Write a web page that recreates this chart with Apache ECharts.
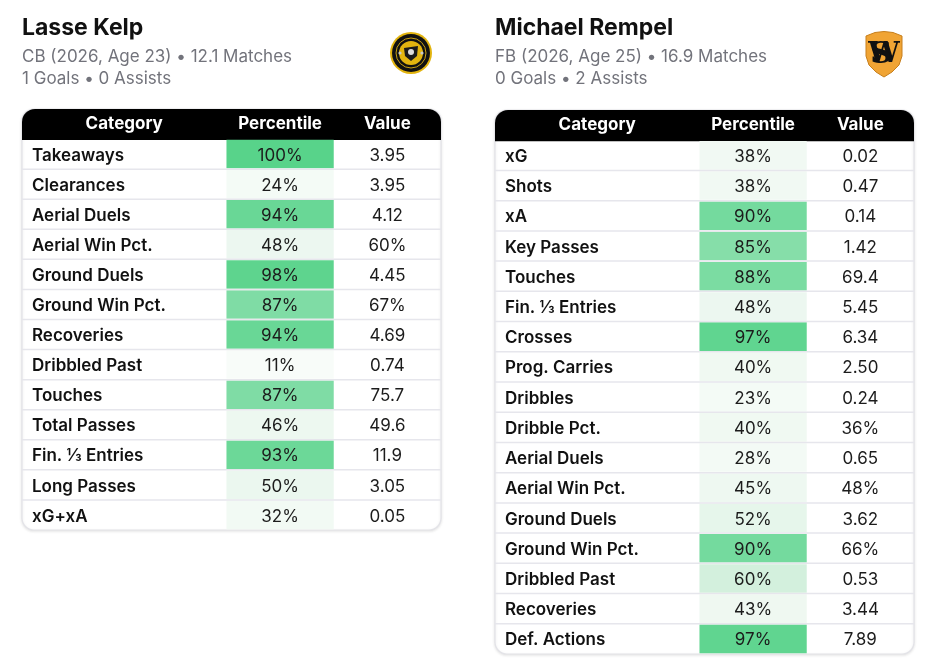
<!DOCTYPE html>
<html>
<head>
<meta http-equiv="Content-Type" content="text/html; charset=utf8">
<title>Player percentiles</title>
<script src="https://cdn.jsdelivr.net/npm/echarts@6/dist/echarts.min.js"></script>
<style type="text/css">
html,body{margin:0;padding:0;background:#fff;}
#main{width:933px;height:670px;}
</style>
</head>
<body>
<div id="main"></div>
<script>
// player 1
var nameA = 'Lasse Kelp';
var infoA = ['CB (2026, Age 23) • 12.1 Matches', '1 Goals • 0 Assists'];
var catsA = ['Takeaways','Clearances','Aerial Duels','Aerial Win Pct.','Ground Duels','Ground Win Pct.','Recoveries','Dribbled Past','Touches','Total Passes','Fin. ⅓ Entries','Long Passes','xG+xA'];
var pctA = [100,24,94,48,98,87,94,11,87,46,93,50,32];
var valA = ['3.95','3.95','4.12','60%','4.45','67%','4.69','0.74','75.7','49.6','11.9','3.05','0.05'];

// player 2
var nameB = 'Michael Rempel';
var infoB = ['FB (2026, Age 25) • 16.9 Matches', '0 Goals • 2 Assists'];
var catsB = ['xG','Shots','xA','Key Passes','Touches','Fin. ⅓ Entries','Crosses','Prog. Carries','Dribbles','Dribble Pct.','Aerial Duels','Aerial Win Pct.','Ground Duels','Ground Win Pct.','Dribbled Past','Recoveries','Def. Actions'];
var pctB = [38,38,90,85,88,48,97,40,23,40,28,45,52,90,60,43,97];
var valB = ['0.02','0.47','0.14','1.42','69.4','5.45','6.34','2.50','0.24','36%','0.65','48%','3.62','66%','0.53','3.44','7.89'];

var headers = ['Category','Percentile','Value'];

// column edges as share of table width
var colEdges = [0, 0.488, 0.744, 1];
var FONT = 'Inter, "Noto Sans", sans-serif';

function rowsData(pcts){
	var d = [[0, -1]]; // header row
	pcts.forEach(function(p, i){ d.push([i + 1, p]); });
	return d;
}

function makeRender(cats, vals){
	var n = cats.length + 1;
	return function(params, api){
		var row = api.value(0);
		var h = api.size([0, 1])[1];
		var cy = api.coord([0, row])[1];
		var top = cy - h / 2;
		var ty = cy + 1.5; // text sits a little low in the cell
		var xs = colEdges.map(function(e){ return api.coord([e, row])[0]; });
		var w = xs[3] - xs[0];
		var kids = [];
		if (row === 0) {
			kids.push({
				type:'rect', z2:0,
				shape:{x:xs[0], y:top, width:w, height:h * n, r:12},
				style:{fill:'#fff', stroke:'#e3e3e8', lineWidth:1.2,
					shadowBlur:3, shadowColor:'rgba(0,0,0,0.10)', shadowOffsetY:1}
			});
			kids.push({
				type:'rect', z2:1,
				shape:{x:xs[0], y:top, width:w, height:h + 1, r:[13,13,0,0]},
				style:{fill:'#000'}
			});
			for (var c = 0; c < 3; c++) {
				kids.push({
					type:'text', z2:2,
					style:{text:headers[c], x:(xs[c] + xs[c + 1]) / 2, y:cy,
						align:'center', verticalAlign:'middle',
						fill:'#fff', font:'bold 17px ' + FONT}
				});
			}
			return {type:'group', children:kids};
		}
		if (row > 1) {
			kids.push({
				type:'line', z2:3,
				shape:{x1:xs[0], y1:top, x2:xs[3], y2:top},
				style:{stroke:'#e6e6ec', lineWidth:1.5}
			});
		}
		kids.push({
			type:'rect', z2:2,
			shape:{x:xs[1], y:top + 0.8, width:xs[2] - xs[1], height:h - 1.6},
			style:{fill:api.visual('color')}
		});
		kids.push({
			type:'text', z2:4,
			style:{text:cats[row - 1], x:xs[0] + 10, y:ty, align:'left', verticalAlign:'middle',
				fill:'#111', font:'600 17px ' + FONT}
		});
		kids.push({
			type:'text', z2:4,
			style:{text:api.value(1) + '%', x:(xs[1] + xs[2]) / 2, y:ty, align:'center', verticalAlign:'middle',
				fill:'#1c1c1c', font:'17px ' + FONT}
		});
		kids.push({
			type:'text', z2:4,
			style:{text:vals[row - 1], x:(xs[2] + xs[3]) / 2, y:ty, align:'center', verticalAlign:'middle',
				fill:'#1c1c1c', font:'17px ' + FONT}
		});
		return {type:'group', children:kids};
	};
}

function yCats(cats){ return ['header'].concat(cats); }

var chart = echarts.init(document.getElementById('main'), null, {renderer:'canvas'});

var titleBase = {
	top:15, padding:0, itemGap:4,
	textStyle:{fontFamily:FONT, fontSize:23, fontWeight:'bold', color:'#111', lineHeight:27},
	subtextStyle:{fontFamily:FONT, fontSize:17, color:'#72737b', lineHeight:22}
};

var option = {
	animation:false,
	backgroundColor:'#fff',
	title:[
		Object.assign({}, titleBase, {left:22, text:nameA, subtext:infoA.join('\n')}),
		Object.assign({}, titleBase, {left:495, text:nameB, subtext:infoB.join('\n')})
	],
	grid:[
		{left:22, right:492, top:109, bottom:140},
		{left:495, right:19, top:110, bottom:16}
	],
	xAxis:[
		{type:'value', gridIndex:0, min:0, max:1, show:false},
		{type:'value', gridIndex:1, min:0, max:1, show:false}
	],
	yAxis:[
		{type:'category', gridIndex:0, inverse:true, data:yCats(catsA), show:false},
		{type:'category', gridIndex:1, inverse:true, data:yCats(catsB), show:false}
	],
	visualMap:{
		type:'continuous', show:false, dimension:1, min:0, max:100, seriesIndex:[0,1],
		inRange:{color:['#fbfdfc','#f8fcf9','#f5fbf7','#f3faf5','#f0f9f2','#ebf7ef','#d3f0dd','#b8e9c9','#98e2b4','#74da9e','#58d38a']},
		outOfRange:{color:'#000'}
	},
	series:[
		{type:'custom', xAxisIndex:0, yAxisIndex:0, renderItem:makeRender(catsA, valA), data:rowsData(pctA), encode:{y:0}},
		{type:'custom', xAxisIndex:1, yAxisIndex:1, renderItem:makeRender(catsB, valB), data:rowsData(pctB), encode:{y:0}}
	],
	graphic:[
		{ // club crest left
			type:'group', x:390, y:32,
			children:[
				{type:'circle', shape:{cx:21, cy:21, r:21}, style:{fill:'#e2b40f'}},
				{type:'circle', shape:{cx:21, cy:21, r:19}, style:{fill:'#111'}},
				{type:'circle', shape:{cx:21, cy:21, r:15}, style:{fill:'none', stroke:'#c9a012', lineWidth:1}},
				{type:'circle', shape:{cx:21, cy:21, r:12}, style:{fill:'#e2b40f'}},
				{type:'polygon', shape:{points:[[14,16],[28,14],[27,24],[21,29],[15,24]]}, style:{fill:'#1a1a1a'}},
				{type:'circle', shape:{cx:21, cy:20, r:3}, style:{fill:'#ddd'}},
				{type:'circle', shape:{cx:10, cy:21, r:1.6}, style:{fill:'#ccc'}},
				{type:'circle', shape:{cx:32, cy:21, r:1.6}, style:{fill:'#ccc'}}
			]
		},
		{ // club crest right
			type:'group', x:864, y:30,
			children:[
				{type:'polygon', shape:{points:[[2,6],[11,2.5],[20,1.5],[29,2.5],[38,6],[38,26],[35,35],[28,42],[20,47],[12,42],[5,35],[2,26]]},
					style:{fill:'#f0a434', stroke:'#c77f1c', lineWidth:1}},
				{type:'text', style:{text:'W', x:20, y:25, align:'center', verticalAlign:'middle',
					fill:'#111', font:'bold 28px "DejaVu Serif", serif'}},
				{type:'text', style:{text:'S', x:17, y:25, align:'center', verticalAlign:'middle',
					fill:'#111', font:'bold 30px "DejaVu Serif", serif'}}
			]
		}
	]
};

chart.setOption(option);
</script>
</body>
</html>
